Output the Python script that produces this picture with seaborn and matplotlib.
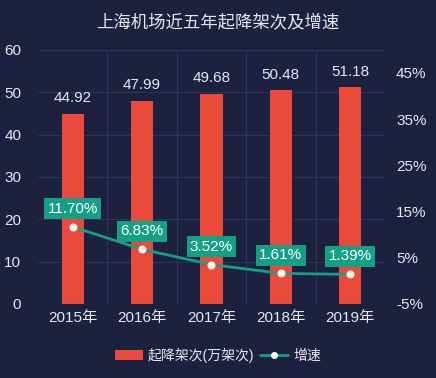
import matplotlib
matplotlib.use("Agg")
import matplotlib.pyplot as plt
import seaborn as sns
import pandas as pd
from matplotlib.patches import Patch
from matplotlib.lines import Line2D

years = ["2015年", "2016年", "2017年", "2018年", "2019年"]
flights = [44.92, 47.99, 49.68, 50.48, 51.18]
growth = [11.70, 6.83, 3.52, 1.61, 1.39]
left_ticks = [0, 10, 20, 30, 40, 50, 60]
right_ticks = [-5, 5, 15, 25, 35, 45]

sns.set_theme(style="dark")
plt.rcParams['font.family'] = ['Liberation Sans', 'Noto Sans CJK SC', 'DejaVu Sans']

bg = "#1c2140"
red = "#ea4a3a"
teal = "#14a085"
txt = "#e6e8ef"

df = pd.DataFrame({"year": years, "flights": flights, "growth": growth})

fig = plt.figure(figsize=(4.36, 3.78), dpi=100, facecolor=bg)
ax = fig.add_axes([0.087, 0.196, 0.796, 0.672])
ax.set_facecolor(bg)

sns.barplot(data=df, x="year", y="flights", color=red, width=0.32, ax=ax,
            saturation=1, edgecolor="none")
ax.set_ylim(0, 60)
ax.set_xlim(-0.5, 4.5)
ax.set_yticks(left_ticks)
ax.set_xlabel("")
ax.set_ylabel("")
ax.tick_params(axis="y", colors=txt, labelsize=11, length=0, pad=12)
ax.tick_params(axis="x", colors=txt, labelsize=11, length=0, pad=5)
ax.grid(True, axis="y", color="#2e3455", linewidth=0.8)
ax.set_axisbelow(True)
for x in [0.5, 1.5, 2.5, 3.5]:
    ax.axvline(x, color="#2e3455", linewidth=0.8, zorder=0)
for s in ax.spines.values():
    s.set_visible(False)
ax.axhline(0, color="#3a4062", linewidth=0.8)

for i, v in enumerate(flights):
    ax.text(i, v + 2.0, f"{v:.2f}", ha="center", va="bottom", color=txt, fontsize=11)

ax2 = ax.twinx()
sns.lineplot(x=list(range(len(years))), y=growth, ax=ax2, color=teal, linewidth=2,
             marker="o", markersize=5, markerfacecolor="#fff4e6", markeredgecolor="#fff4e6")
ax2.set_ylim(-5, 50)
ax2.set_yticks(right_ticks)
ax2.set_yticklabels([f"{t}%" for t in right_ticks])
ax2.tick_params(axis="y", colors=txt, labelsize=11, length=0, pad=8)
for s in ax2.spines.values():
    s.set_visible(False)
ax2.grid(False)

for i, g in enumerate(growth):
    ax2.text(i, g + 3.9, f"{g:.2f}%", ha="center", va="center", color="white", fontsize=11,
             bbox=dict(boxstyle="square,pad=0.22", facecolor=teal, edgecolor="none"))

fig.text(0.5, 0.94, "上海机场近五年起降架次及增速", ha="center", va="center",
         color=txt, fontsize=12.5)

handles = [Patch(facecolor=red, edgecolor="none", label="起降架次(万架次)"),
           Line2D([0], [0], color=teal, linewidth=2, marker="o", markersize=4,
                  markerfacecolor="white", markeredgecolor="white", label="增速")]
fig.legend(handles=handles, loc="center", bbox_to_anchor=(0.5, 0.06), ncol=2, frameon=False,
           labelcolor=txt, fontsize=10, handlelength=2.0, handletextpad=0.4, columnspacing=0.4)

fig.savefig("out.png", dpi=100, facecolor=bg)
